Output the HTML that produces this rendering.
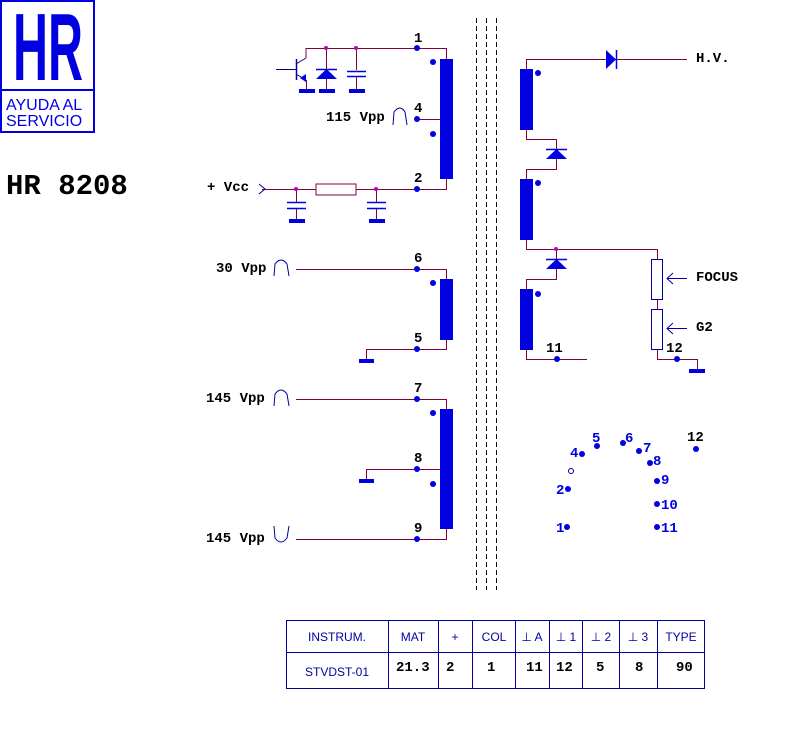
<!DOCTYPE html>
<html><head><meta charset="utf-8"><style>
html,body{margin:0;padding:0;background:#fff;width:801px;height:750px;overflow:hidden}
svg{display:block}
.w{stroke:#800040;stroke-width:1;fill:none}
.b{fill:#0000e0}
.t{font-family:"Liberation Mono",monospace;font-weight:bold;font-size:14px;fill:#000}
.p{font-family:"Liberation Mono",monospace;font-weight:bold;font-size:14px;fill:#0000e0}
.tb{font-family:"Liberation Sans",sans-serif;font-size:12px;fill:#0000a0}
</style></head><body>
<svg width="801" height="750" viewBox="0 0 801 750" xmlns="http://www.w3.org/2000/svg">
<!-- logo -->
<rect x="1" y="1" width="93" height="131" fill="none" stroke="#0000e0" stroke-width="2"/>
<line x1="1" y1="90" x2="94" y2="90" stroke="#0000e0" stroke-width="2"/>
<text x="13" y="80" font-family="Liberation Sans,sans-serif" font-weight="bold" font-size="96" fill="#0000e0" textLength="70" lengthAdjust="spacingAndGlyphs">HR</text>
<text x="6" y="110" font-family="Liberation Sans,sans-serif" font-size="16" fill="#0000e0">AYUDA AL</text>
<text x="6" y="126" font-family="Liberation Sans,sans-serif" font-size="16" fill="#0000e0">SERVICIO</text>
<text x="6" y="194" font-family="Liberation Mono,monospace" font-weight="bold" font-size="29" fill="#000">HR 8208</text>

<!-- core -->
<g stroke="#000" stroke-width="1" stroke-dasharray="5,3">
<line x1="476.5" y1="18" x2="476.5" y2="590"/><line x1="486.5" y1="18" x2="486.5" y2="590"/><line x1="496.5" y1="18" x2="496.5" y2="590"/>
</g>

<!-- primary -->
<polyline class="w" points="306,58 306,48.5 446.5,48.5 446.5,59"/>
<line class="w" x1="417" y1="119.5" x2="446" y2="119.5"/>
<polyline class="w" points="262,189.5 446.5,189.5 446.5,179"/>
<rect class="b" x="440" y="59" width="13" height="120"/>
<circle class="b" cx="433" cy="62" r="3"/><circle class="b" cx="433" cy="134" r="3"/>
<circle class="b" cx="417" cy="48" r="3"/><circle class="b" cx="417" cy="119" r="3"/><circle class="b" cx="417" cy="189" r="3"/>
<text class="t" x="414" y="42">1</text><text class="t" x="414" y="112">4</text><text class="t" x="414" y="182">2</text>
<text class="t" x="326" y="121">115 Vpp</text>
<path d="M393,125 L394,112 Q400,104 405,112 L407,125" fill="none" stroke="#0000a0"/>
<!-- transistor -->
<line x1="276" y1="69.5" x2="296" y2="69.5" stroke="#000080"/>
<line x1="296.5" y1="59" x2="296.5" y2="80" stroke="#0000a0" stroke-width="1.5"/>
<line x1="296" y1="64" x2="306" y2="58" stroke="#0000a0"/>
<line x1="296" y1="74" x2="306" y2="80" stroke="#0000a0"/>
<polygon class="b" points="306,82 300,78 306,74"/>
<line class="w" x1="306.5" y1="80" x2="306.5" y2="90"/>
<rect class="b" x="299" y="89" width="16" height="4"/>
<!-- diode -->
<line class="w" x1="326.5" y1="48" x2="326.5" y2="90"/>
<polygon class="b" points="326.5,69 316,79 337,79"/>
<line x1="316" y1="69.5" x2="337" y2="69.5" stroke="#0000e0" stroke-width="1.5"/>
<rect class="b" x="319" y="89" width="16" height="4"/>
<!-- cap -->
<line class="w" x1="356.5" y1="48" x2="356.5" y2="90"/>
<rect x="348" y="70" width="18" height="7" fill="#fff"/>
<line x1="347" y1="71.5" x2="366" y2="71.5" stroke="#0000e0" stroke-width="1.5"/>
<line x1="347" y1="76.5" x2="366" y2="76.5" stroke="#0000e0" stroke-width="1.5"/>
<rect class="b" x="349" y="89" width="16" height="4"/>
<circle cx="326" cy="48" r="2" fill="#c000c0"/><circle cx="356" cy="48" r="2" fill="#c000c0"/>
<!-- vcc -->
<text class="t" x="207" y="191">+ Vcc</text>
<polyline points="259,184 265,189 259,194" fill="none" stroke="#0000a0"/>
<rect x="316" y="184" width="40" height="11" fill="#fff" stroke="#800040"/>
<g>
<line class="w" x1="296.5" y1="189" x2="296.5" y2="220"/>
<rect x="286" y="203" width="22" height="5" fill="#fff"/>
<line x1="287" y1="202.5" x2="306" y2="202.5" stroke="#0000e0" stroke-width="1.5"/>
<line x1="287" y1="208.5" x2="306" y2="208.5" stroke="#0000e0" stroke-width="1.5"/>
<rect class="b" x="289" y="219" width="16" height="4"/>
<line class="w" x1="376.5" y1="189" x2="376.5" y2="220"/>
<rect x="366" y="203" width="22" height="5" fill="#fff"/>
<line x1="367" y1="202.5" x2="386" y2="202.5" stroke="#0000e0" stroke-width="1.5"/>
<line x1="367" y1="208.5" x2="386" y2="208.5" stroke="#0000e0" stroke-width="1.5"/>
<rect class="b" x="369" y="219" width="16" height="4"/>
</g>
<circle cx="296" cy="189" r="2" fill="#c000c0"/><circle cx="376" cy="189" r="2" fill="#c000c0"/>

<!-- winding 6-5 -->
<polyline class="w" points="296,269.5 446.5,269.5 446.5,279"/>
<polyline class="w" points="366.5,360 366.5,349.5 446.5,349.5 446.5,339"/>
<rect class="b" x="440" y="279" width="13" height="61"/>
<circle class="b" cx="433" cy="283" r="3"/>
<circle class="b" cx="417" cy="269" r="3"/><circle class="b" cx="417" cy="349" r="3"/>
<rect class="b" x="359" y="359" width="15" height="4"/>
<text class="t" x="414" y="262">6</text><text class="t" x="414" y="342">5</text>
<text class="t" x="216" y="272">30 Vpp</text>
<path d="M274,276 L275,264 Q281,256 287,264 L289,276" fill="none" stroke="#0000a0"/>

<!-- winding 7-8-9 -->
<polyline class="w" points="296,399.5 446.5,399.5 446.5,409"/>
<polyline class="w" points="366.5,480 366.5,469.5 446,469.5"/>
<polyline class="w" points="296,539.5 446.5,539.5 446.5,529"/>
<rect class="b" x="440" y="409" width="13" height="120"/>
<circle class="b" cx="433" cy="413" r="3"/><circle class="b" cx="433" cy="484" r="3"/>
<circle class="b" cx="417" cy="399" r="3"/><circle class="b" cx="417" cy="469" r="3"/><circle class="b" cx="417" cy="539" r="3"/>
<rect class="b" x="359" y="479" width="15" height="4"/>
<text class="t" x="414" y="392">7</text><text class="t" x="414" y="462">8</text><text class="t" x="414" y="532">9</text>
<text class="t" x="206" y="402">145 Vpp</text>
<path d="M274,406 L275,394 Q281,386 287,394 L289,406" fill="none" stroke="#0000a0"/>
<text class="t" x="206" y="542">145 Vpp</text>
<path d="M274,526 L275,538 Q281,546 287,538 L289,526" fill="none" stroke="#0000a0"/>

<!-- secondary -->
<polyline class="w" points="526.5,69 526.5,59.5 687,59.5"/>
<polygon class="b" points="606,50 616,59.5 606,69"/>
<line x1="616.5" y1="50" x2="616.5" y2="69" stroke="#0000e0" stroke-width="1.5"/>
<text class="t" x="696" y="62">H.V.</text>
<rect class="b" x="520" y="69" width="13" height="61"/><circle class="b" cx="538" cy="73" r="3"/>
<polyline class="w" points="526.5,129 526.5,139.5 556.5,139.5 556.5,149"/>
<polygon class="b" points="556.5,149 546,159 567,159"/>
<line x1="546" y1="149.5" x2="567" y2="149.5" stroke="#0000e0" stroke-width="1.5"/>
<polyline class="w" points="556.5,159 556.5,169.5 526.5,169.5 526.5,179"/>
<rect class="b" x="520" y="179" width="13" height="61"/><circle class="b" cx="538" cy="183" r="3"/>
<polyline class="w" points="526.5,239 526.5,249.5 657.5,249.5 657.5,259"/>
<line class="w" x1="556.5" y1="249" x2="556.5" y2="259"/>
<polygon class="b" points="556.5,259 546,269 567,269"/>
<line x1="546" y1="259.5" x2="567" y2="259.5" stroke="#0000e0" stroke-width="1.5"/>
<polyline class="w" points="556.5,269 556.5,279.5 526.5,279.5 526.5,289"/>
<circle cx="556" cy="249" r="2" fill="#c000c0"/>
<rect class="b" x="520" y="289" width="13" height="61"/><circle class="b" cx="538" cy="294" r="3"/>
<polyline class="w" points="526.5,349 526.5,359.5 587,359.5"/>
<circle class="b" cx="557" cy="359" r="3"/>
<text class="t" x="546" y="352">11</text>
<rect x="651.5" y="259.5" width="11" height="40" fill="#fff" stroke="#0000a0"/>
<line class="w" x1="657.5" y1="300" x2="657.5" y2="309"/>
<rect x="651.5" y="309.5" width="11" height="40" fill="#fff" stroke="#0000a0"/>
<polyline class="w" points="657.5,350 657.5,359.5 697.5,359.5 697.5,370"/>
<rect class="b" x="689" y="369" width="16" height="4"/>
<circle class="b" cx="677" cy="359" r="3"/>
<text class="t" x="666" y="352">12</text>
<line x1="667" y1="278.5" x2="687" y2="278.5" stroke="#0000a0"/>
<polyline points="673,273 667,278.5 673,284" fill="none" stroke="#0000a0"/>
<text class="t" x="696" y="281">FOCUS</text>
<line x1="667" y1="328.5" x2="687" y2="328.5" stroke="#0000a0"/>
<polyline points="673,323 667,328.5 673,334" fill="none" stroke="#0000a0"/>
<text class="t" x="696" y="331">G2</text>

<!-- pin layout -->
<g class="b">
<circle cx="567" cy="527" r="3"/><circle cx="568" cy="489" r="3"/><circle cx="582" cy="454" r="3"/>
<circle cx="597" cy="446" r="3"/><circle cx="623" cy="443" r="3"/><circle cx="639" cy="451" r="3"/>
<circle cx="650" cy="463" r="3"/><circle cx="657" cy="481" r="3"/><circle cx="657" cy="504" r="3"/>
<circle cx="657" cy="527" r="3"/><circle cx="696" cy="449" r="3"/>
</g>
<circle cx="571" cy="471" r="2.5" fill="none" stroke="#0000a0"/>
<text class="p" x="556" y="532">1</text><text class="p" x="556" y="494">2</text><text class="p" x="570" y="457">4</text>
<text class="p" x="592" y="442">5</text><text class="p" x="625" y="442">6</text><text class="p" x="643" y="452">7</text>
<text class="p" x="653" y="465">8</text><text class="p" x="661" y="484">9</text><text class="p" x="661" y="509">10</text>
<text class="p" x="661" y="532">11</text><text class="t" x="687" y="441">12</text>

<!-- table -->
<g stroke="#0000a0" stroke-width="1" fill="none">
<rect x="286.5" y="620.5" width="418" height="68"/>
<line x1="286" y1="652.5" x2="705" y2="652.5"/>
<line x1="388.5" y1="620" x2="388.5" y2="689"/><line x1="438.5" y1="620" x2="438.5" y2="689"/>
<line x1="472.5" y1="620" x2="472.5" y2="689"/><line x1="515.5" y1="620" x2="515.5" y2="689"/>
<line x1="549.5" y1="620" x2="549.5" y2="689"/><line x1="582.5" y1="620" x2="582.5" y2="689"/>
<line x1="619.5" y1="620" x2="619.5" y2="689"/><line x1="657.5" y1="620" x2="657.5" y2="689"/>
</g>
<g class="tb" text-anchor="middle">
<text x="337" y="641">INSTRUM.</text><text x="413" y="641">MAT</text><text x="455" y="641">+</text>
<text x="494" y="641">COL</text><text x="532" y="641">⊥ A</text><text x="566" y="641">⊥ 1</text>
<text x="601" y="641">⊥ 2</text><text x="638" y="641">⊥ 3</text><text x="681" y="641">TYPE</text>
<text x="337" y="676">STVDST-01</text>
</g>
<g class="t">
<text x="396" y="671">21.3</text><text x="446" y="671">2</text><text x="487" y="671">1</text>
<text x="526" y="671">11</text><text x="556" y="671">12</text><text x="596" y="671">5</text>
<text x="635" y="671">8</text><text x="676" y="671">90</text>
</g>
</svg>
</body></html>
